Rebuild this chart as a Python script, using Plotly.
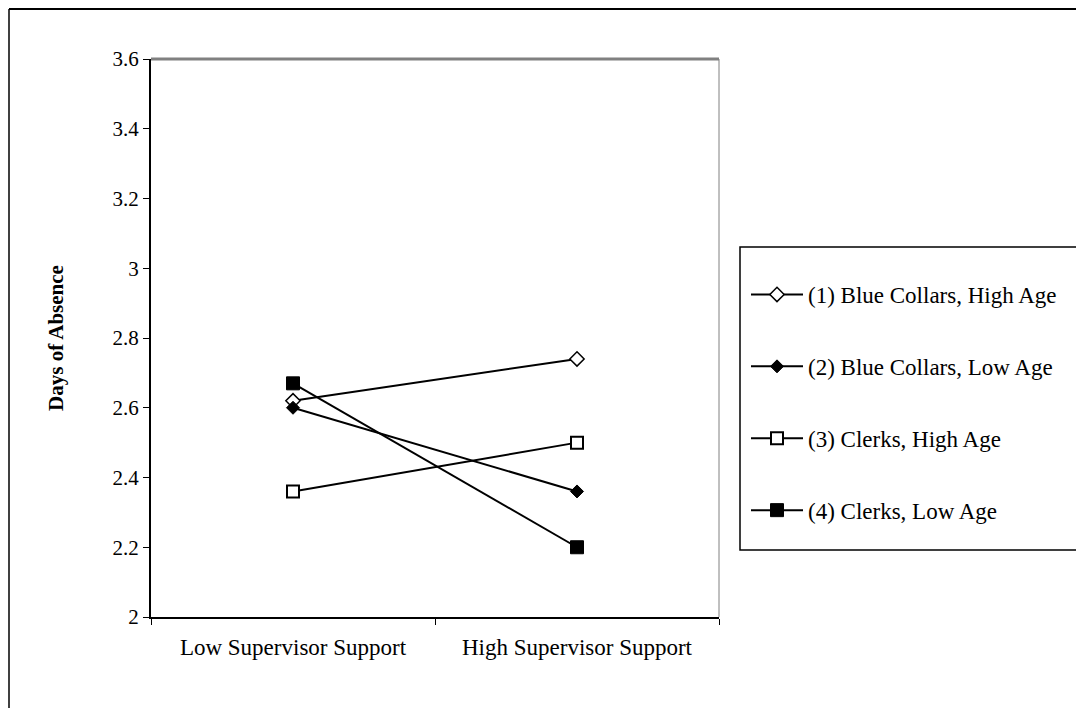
import plotly.graph_objects as go

categories = ["Low Supervisor Support", "High Supervisor Support"]
series_names = ["(1) Blue Collars, High Age", "(2) Blue Collars, Low Age",
                "(3) Clerks, High Age", "(4) Clerks, Low Age"]
s1 = [2.62, 2.74]
s2 = [2.60, 2.36]
s3 = [2.36, 2.50]
s4 = [2.67, 2.20]
y_ticks = [2, 2.2, 2.4, 2.6, 2.8, 3, 3.2, 3.4, 3.6]
y_tick_labels = ["2", "2.2", "2.4", "2.6", "2.8", "3", "3.2", "3.4", "3.6"]

OFF = 8  # page body margin
W, H = 1084 - OFF, 708 - OFF
L, R, T, B = 151 - OFF, 1084 - 719, 59 - OFF, 708 - 617
pw, ph = W - L - R, H - T - B

def px(x):
    return (x - OFF - L) / pw

def py(y):
    return (H - B - (y - OFF)) / ph

FONT = "Liberation Serif"

markers = [
    dict(symbol="diamond", size=11, color="white", line=dict(color="black", width=1.5)),
    dict(symbol="diamond", size=10, color="black", line=dict(color="black", width=1)),
    dict(symbol="square", size=12, color="white", line=dict(color="black", width=2)),
    dict(symbol="square", size=13, color="black", line=dict(color="black", width=1)),
]

fig = go.Figure()
for i, (name, vals) in enumerate(zip(series_names, [s1, s2, s3, s4])):
    fig.add_trace(go.Scatter(
        x=categories, y=vals, name=name, mode="lines+markers",
        line=dict(color="black", width=2), marker=markers[i],
        legendgroup=str(i),
    ))

shapes = [
    # outer frame
    dict(type="line", xref="paper", yref="paper", x0=px(9), x1=px(1090), y0=py(9), y1=py(9),
         line=dict(color="black", width=2)),
    dict(type="line", xref="paper", yref="paper", x0=px(9), x1=px(9), y0=py(9), y1=py(715),
         line=dict(color="black", width=1.5)),
    # grey top and right plot borders
    dict(type="line", xref="paper", yref="paper", x0=0, x1=1, y0=1, y1=1,
         line=dict(color="#808080", width=3)),
    dict(type="line", xref="paper", yref="paper", x0=1, x1=1, y0=0, y1=1,
         line=dict(color="#808080", width=1)),
    # legend box
    dict(type="rect", xref="paper", yref="paper", x0=px(740), x1=px(1077), y0=py(550), y1=py(247),
         line=dict(color="black", width=1.5)),
]

fig.update_layout(
    width=W, height=H,
    margin=dict(l=L, r=R, t=T, b=B),
    paper_bgcolor="white", plot_bgcolor="white",
    font=dict(family=FONT, color="black"),
    shapes=shapes,
    showlegend=True,
    legend=dict(
        x=px(746), y=py(273), xanchor="left", yanchor="top",
        font=dict(family=FONT, size=23, color="black"),
        bgcolor="rgba(0,0,0,0)", borderwidth=0,
        tracegroupgap=39, itemwidth=52,
    ),
    xaxis=dict(
        type="category", range=[-0.5, 1.5],
        showline=True, linecolor="black", linewidth=2,
        ticks="outside", tickson="boundaries", ticklen=6, tickcolor="black", tickwidth=1,
        tickfont=dict(family=FONT, size=23, color="black"),
        ticklabelstandoff=8,
        showgrid=False, zeroline=False, fixedrange=True,
    ),
    yaxis=dict(
        range=[2, 3.6], tickvals=y_ticks, ticktext=y_tick_labels,
        showline=True, linecolor="black", linewidth=2,
        ticks="outside", ticklen=6, tickcolor="black", tickwidth=1,
        tickfont=dict(family=FONT, size=21, color="black"),
        showgrid=False, zeroline=False,
        title=dict(text="<b>Days of Absence</b>", font=dict(family=FONT, size=21, color="black"),
                   standoff=43),
    ),
)

fig.write_html("out.html")
